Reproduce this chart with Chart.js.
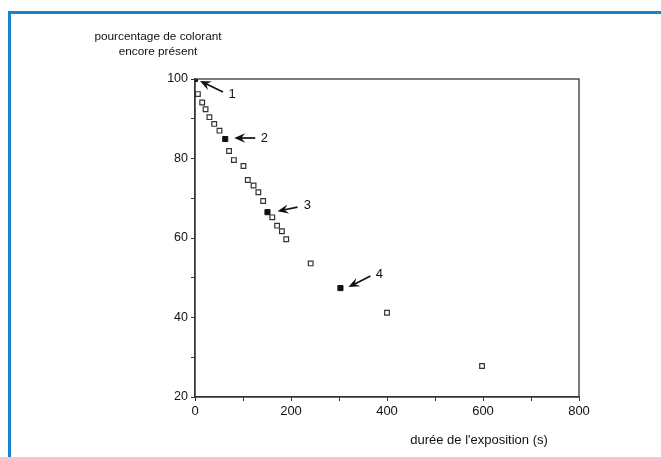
<!DOCTYPE html>
<html lang="fr">
<head>
    <meta charset="UTF-8">
    <title>Pourcentage de colorant</title>
    <script src="https://cdn.jsdelivr.net/npm/chart.js"></script>
    <style>
        body {
            margin: 0;
            background: #fff;
            font-family: 'Liberation Sans', Arial, sans-serif;
        }
        .frame {
            position: absolute;
            left: 8px;
            top: 11px;
            width: 700px;
            height: 500px;
            border-left: 3px solid #1b82cc;
            border-top: 3px solid #1b82cc;
        }
        .wrap {
            position: absolute;
            left: 0;
            top: 0;
            width: 661px;
            height: 457px;
        }
    </style>
</head>
<body>
    <div class="frame"></div>
    <div class="wrap"><canvas id="chart" width="661" height="457"></canvas></div>

    <script>
        // open squares (durée en s, % restant)
        const openX = [6, 15, 22, 30, 40, 51, 71, 81, 101, 110, 122, 132, 142, 161, 171, 181, 190, 241, 400, 598];
        const openY = [96.2, 94.1, 92.4, 90.4, 88.7, 87.0, 81.9, 79.6, 78.1, 74.6, 73.2, 71.5, 69.3, 65.2, 63.1, 61.7, 59.7, 53.6, 41.2, 27.8];
        // filled points, numbered 1 to 4
        const filledX = [0, 63, 151, 303];
        const filledY = [100, 84.9, 66.5, 47.4];
        const filledLabels = ['1', '2', '3', '4'];

        const yTitle = ['pourcentage de colorant', 'encore présent'];
        const xTitle = "durée de l'exposition (s)";

        const font = "'Liberation Sans', Arial, sans-serif";

        // arrows with numbers next to the filled points
        const arrowPlugin = {
            id: 'arrows',
            afterDatasetsDraw(chart) {
                const ctx = chart.ctx;
                const xs = chart.scales.x, ys = chart.scales.y;
                // tail offset, head offset, label offset (px from point)
                const offs = [
                    { tail: [28, 13], head: [5, 2], text: [37, 15] },
                    { tail: [30, -1], head: [9, -1], text: [39, -1] },
                    { tail: [30, -5], head: [10, -1], text: [40, -7] },
                    { tail: [30, -12], head: [8, -1], text: [39, -14] }
                ];
                ctx.save();
                ctx.strokeStyle = '#111';
                ctx.fillStyle = '#111';
                ctx.lineWidth = 1.7;
                filledX.forEach((v, i) => {
                    const px = xs.getPixelForValue(v);
                    const py = ys.getPixelForValue(filledY[i]);
                    const o = offs[i];
                    const tx = px + o.tail[0], ty = py + o.tail[1];
                    const hx = px + o.head[0], hy = py + o.head[1];
                    const ang = Math.atan2(hy - ty, hx - tx);
                    ctx.beginPath();
                    ctx.moveTo(tx, ty);
                    ctx.lineTo(hx - 6 * Math.cos(ang), hy - 6 * Math.sin(ang));
                    ctx.stroke();
                    ctx.beginPath();
                    ctx.moveTo(hx, hy);
                    ctx.lineTo(hx - 12 * Math.cos(ang - 0.4), hy - 12 * Math.sin(ang - 0.4));
                    ctx.lineTo(hx - 7 * Math.cos(ang), hy - 7 * Math.sin(ang));
                    ctx.lineTo(hx - 12 * Math.cos(ang + 0.4), hy - 12 * Math.sin(ang + 0.4));
                    ctx.closePath();
                    ctx.fill();
                    ctx.font = '13px ' + font;
                    ctx.textAlign = 'center';
                    ctx.textBaseline = 'middle';
                    ctx.fillText(filledLabels[i], px + o.text[0], py + o.text[1]);
                });

                // axis titles
                ctx.font = '11.8px ' + font;
                ctx.textAlign = 'center';
                ctx.textBaseline = 'middle';
                ctx.fillText(yTitle[0], 158, 37);
                ctx.fillText(yTitle[1], 158, 52);
                ctx.font = '13px ' + font;
                ctx.fillText(xTitle, 479, 440);

                // plot box
                const a = chart.chartArea;
                ctx.strokeStyle = '#333';
                ctx.lineWidth = 1.3;
                ctx.strokeRect(a.left, a.top, a.right - a.left, a.bottom - a.top);
                ctx.restore();
            }
        };

        new Chart(document.getElementById('chart'), {
            type: 'scatter',
            data: {
                datasets: [
                    {
                        label: 'mesures',
                        data: openX.map((x, i) => ({ x: x, y: openY[i] })),
                        pointStyle: 'rect',
                        pointRadius: 3.3,
                        borderWidth: 1.2,
                        borderColor: '#333',
                        backgroundColor: '#fff'
                    },
                    {
                        label: 'points numérotés',
                        data: filledX.map((x, i) => ({ x: x, y: filledY[i] })),
                        pointStyle: 'rect',
                        pointRadius: 3.6,
                        borderWidth: 1,
                        borderColor: '#111',
                        backgroundColor: '#111'
                    }
                ]
            },
            options: {
                responsive: false,
                animation: false,
                layout: { padding: { left: 0, top: 79, right: 82, bottom: 0 } },
                plugins: {
                    legend: { display: false },
                    tooltip: { enabled: false }
                },
                scales: {
                    x: {
                        type: 'linear',
                        min: 0,
                        max: 800,
                        afterFit: s => { s.height = 60; },
                        border: { display: true, color: '#333', width: 1.3 },
                        grid: { drawOnChartArea: false, drawTicks: true, tickLength: 4, color: '#333' },
                        ticks: {
                            stepSize: 100,
                            autoSkip: false,
                            maxRotation: 0,
                            padding: 3,
                            color: '#111',
                            font: { family: font, size: 13 },
                            callback: v => (v % 200 === 0 ? v : '')
                        }
                    },
                    y: {
                        min: 20,
                        max: 100,
                        afterFit: s => { s.width = 195; },
                        border: { display: true, color: '#333', width: 1.3 },
                        grid: { drawOnChartArea: false, drawTicks: true, tickLength: 4, color: '#333' },
                        ticks: {
                            stepSize: 10,
                            autoSkip: false,
                            padding: 3,
                            color: '#111',
                            font: { family: font, size: 12.5 },
                            callback: v => (v % 20 === 0 ? v : '')
                        }
                    }
                }
            },
            plugins: [arrowPlugin]
        });
    </script>
</body>
</html>
